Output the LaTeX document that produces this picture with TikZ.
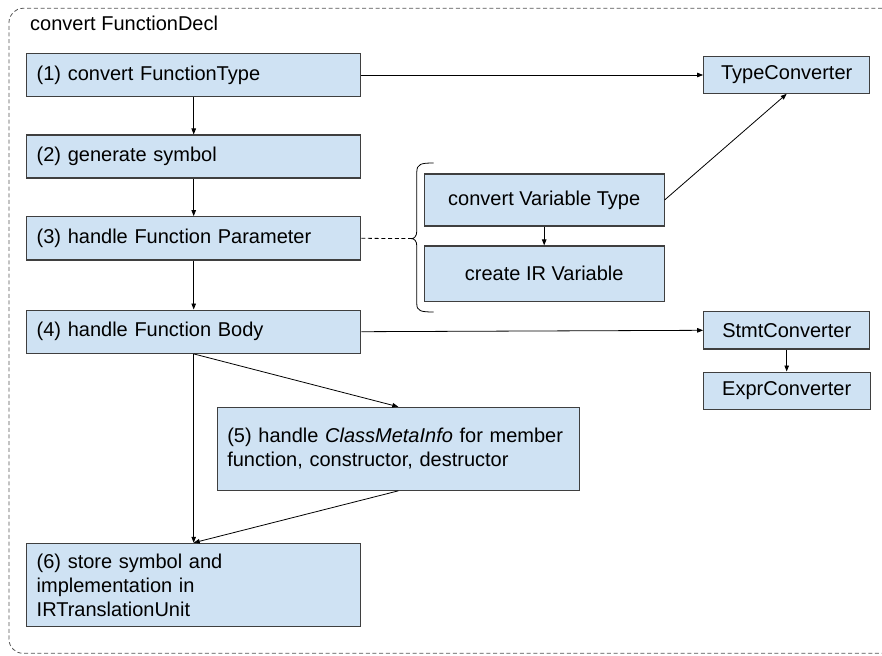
\documentclass[tikz,border=0pt]{standalone}
\usepackage{fontspec}
\setmainfont{Liberation Sans}
\usetikzlibrary{arrows.meta}
\definecolor{boxfill}{HTML}{CFE2F3}
\definecolor{boxline}{HTML}{3F3F3F}
\definecolor{framegray}{HTML}{555555}
\begin{document}
\begin{tikzpicture}[x=1pt,y=-1pt,
  font=\fontsize{20}{24}\selectfont,
  stepbox/.style={draw=boxline, line width=1.1pt, fill=boxfill, rectangle,
    inner xsep=10pt, inner ysep=0pt, align=left, text width=#1},
  stepbox/.default=314pt,
  convbox/.style={draw=boxline, line width=1.1pt, fill=boxfill, rectangle,
    inner sep=0pt, align=center},
  flow/.style={draw=black, line width=0.8pt,
    -{Triangle[length=6pt,width=4.5pt]}},
]
\useasboundingbox (0,0) rectangle (882,655);

% outer dashed frame, open on the right where it leaves the page
\draw[framegray, line width=0.8pt, dash pattern=on 4pt off 2.7pt, rounded corners=14pt]
  (882,8.3) -- (9,8.3) -- (9,653.3) -- (882,653.3);
\node[anchor=base west, inner sep=0pt] (title) at (30,30.5) {convert FunctionDecl};

% main steps
\node[stepbox, minimum height=43.4pt] (s1) at (193.7,75)   {(1) convert FunctionType};
\node[stepbox, minimum height=43pt]   (s2) at (193.7,156.5) {(2) generate symbol};
\node[stepbox, minimum height=43.3pt] (s3) at (193.7,238.3) {(3) handle Function Parameter};
\node[stepbox, minimum height=43.3pt] (s4) at (193.7,331.7) {(4) handle Function Body};
\node[stepbox=342pt, minimum height=83pt] (s5) at (398.3,448.8)
  {(5) handle \textit{ClassMetaInfo} for member\\function, constructor, destructor};
\node[stepbox, minimum height=83.4pt] (s6) at (193.7,585)
  {(6) store symbol and\\implementation in\\IRTranslationUnit};

% parameter handling sub-steps
\node[convbox, minimum width=239.7pt, minimum height=52pt]   (cvt) at (544.2,200)   {convert Variable Type};
\node[convbox, minimum width=239.7pt, minimum height=55.7pt] (cir) at (544.2,273.8) {create IR Variable};

% converters
\node[convbox, minimum width=166pt, minimum height=36.6pt]   (tc)   at (786.7,75)    {TypeConverter};
\node[convbox, minimum width=166pt, minimum height=37.3pt]   (stmt) at (786.7,330.3) {StmtConverter};
\node[convbox, minimum width=167.3pt, minimum height=37.3pt] (expr) at (786.7,390.7) {ExprConverter};

% brace grouping the sub-steps
\coordinate (brtip) at (411.5,238.6);
\draw[black, line width=0.8pt]
  (433.5,163) .. controls (421,163) and (416.8,164) .. (416.8,172)
  -- (416.8,231) .. controls (416.8,236.5) and (414,238.6) .. (brtip)
  .. controls (414,238.6) and (416.8,240.7) .. (416.8,246)
  -- (416.8,304) .. controls (416.8,311) and (421,312) .. (433.5,312);
\draw[black, line width=0.8pt, dash pattern=on 4pt off 2.7pt] (s3.east) -- (brtip);

% connectors
\draw[flow] (s1.east) -- (tc.west);
\draw[flow] (s1.south) -- (s2.north);
\draw[flow] (s2.south) -- (s3.north);
\draw[flow] (s3.south) -- (s4.north);
\draw[flow] (cvt.east) -- (tc.south);
\draw[flow] (cvt.south) -- (cir.north);
\draw[flow] (s4.east) -- (stmt.west);
\draw[flow] (stmt.south) -- (expr.north);
\draw[flow] (s4.south) -- (s6.north);
\draw[flow] (s4.south) -- (s5.north);
\draw[flow] (s5.south) -- (s6.north);
\end{tikzpicture}
\end{document}
